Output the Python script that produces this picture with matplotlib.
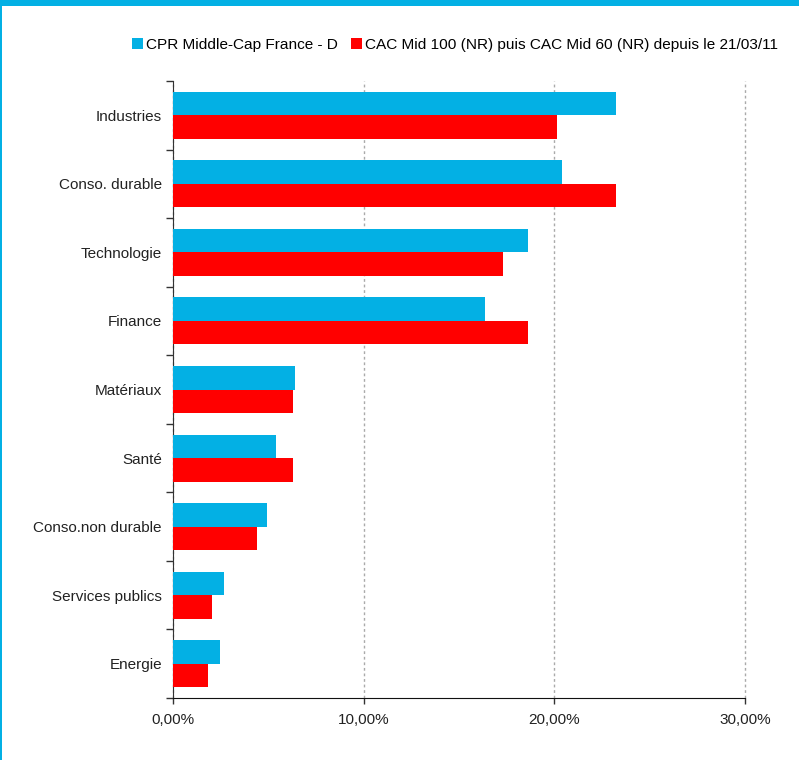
import matplotlib.pyplot as plt
import numpy as np
from matplotlib.ticker import FuncFormatter, FixedLocator

plt.rcParams['font.family'] = ['Liberation Sans', 'DejaVu Sans']

categories = ['Industries', 'Conso. durable', 'Technologie', 'Finance', 'Matériaux',
              'Santé', 'Conso.non durable', 'Services publics', 'Energie']
fonds = [23.21, 20.38, 18.60, 16.38, 6.41, 5.42, 4.95, 2.69, 2.48]
indice = [20.15, 23.21, 17.29, 18.60, 6.31, 6.28, 4.42, 2.06, 1.85]
labels = ['CPR Middle-Cap France - D',
          'CAC Mid 100 (NR) puis CAC Mid 60 (NR) depuis le 21/03/11']

blue = '#03b0e4'
red = '#ff0000'

fig = plt.figure(figsize=(7.99, 7.6), dpi=100)
W, H = 799, 760

# cadre : bande cyan en haut et filet a gauche
fig.add_artist(plt.Rectangle((0, 1 - 6 / H), 1, 6 / H, transform=fig.transFigure,
                             color=blue, lw=0))
fig.add_artist(plt.Rectangle((0, 0), 2 / W, 1, transform=fig.transFigure,
                             color=blue, lw=0))

ax = fig.add_axes([173 / W, 1 - 698 / H, (745 - 173) / W, (698 - 81) / H])

y = np.arange(len(categories))
h = 0.343
b1 = ax.barh(y - h / 2, fonds, height=h, color=blue, label=labels[0], zorder=3)
b2 = ax.barh(y + h / 2, indice, height=h, color=red, label=labels[1], zorder=3)

ax.set_ylim(len(categories) - 0.5, -0.5)
ax.set_xlim(0, 30)
ax.set_xticks([0, 10, 20, 30])
ax.xaxis.set_major_formatter(FuncFormatter(lambda v, p: f'{v:.2f}%'.replace('.', ',')))
ax.set_yticks(y)
ax.set_yticklabels(categories, fontsize=11, color='#222222')
ax.yaxis.set_minor_locator(FixedLocator(np.arange(-0.5, len(categories), 1)))
ax.tick_params(axis='y', which='major', length=0, pad=8)
ax.tick_params(axis='y', which='minor', length=5, width=1, color='#333333', direction='out')
ax.tick_params(axis='x', length=4, width=1, color='#333333', labelsize=11,
               labelcolor='#222222', pad=7)

ax.grid(axis='x', linestyle=(0, (2, 2)), color='#aaaaaa', lw=1, zorder=0)
for gl in ax.get_xgridlines():
    gl.set_clip_on(False)
for s in ['top', 'right']:
    ax.spines[s].set_visible(False)
ax.spines['left'].set_color('#333333')
ax.spines['bottom'].set_color('#111111')

fig.legend(handles=[b1, b2], labels=labels, loc='center', bbox_to_anchor=(455 / W, 1 - 45 / H),
           ncol=2, frameon=False, fontsize=11.1, handlelength=0.72, handleheight=0.72,
           handletextpad=0.15, columnspacing=0.9, borderpad=0)

fig.savefig('out.png', dpi=100, facecolor='white')
